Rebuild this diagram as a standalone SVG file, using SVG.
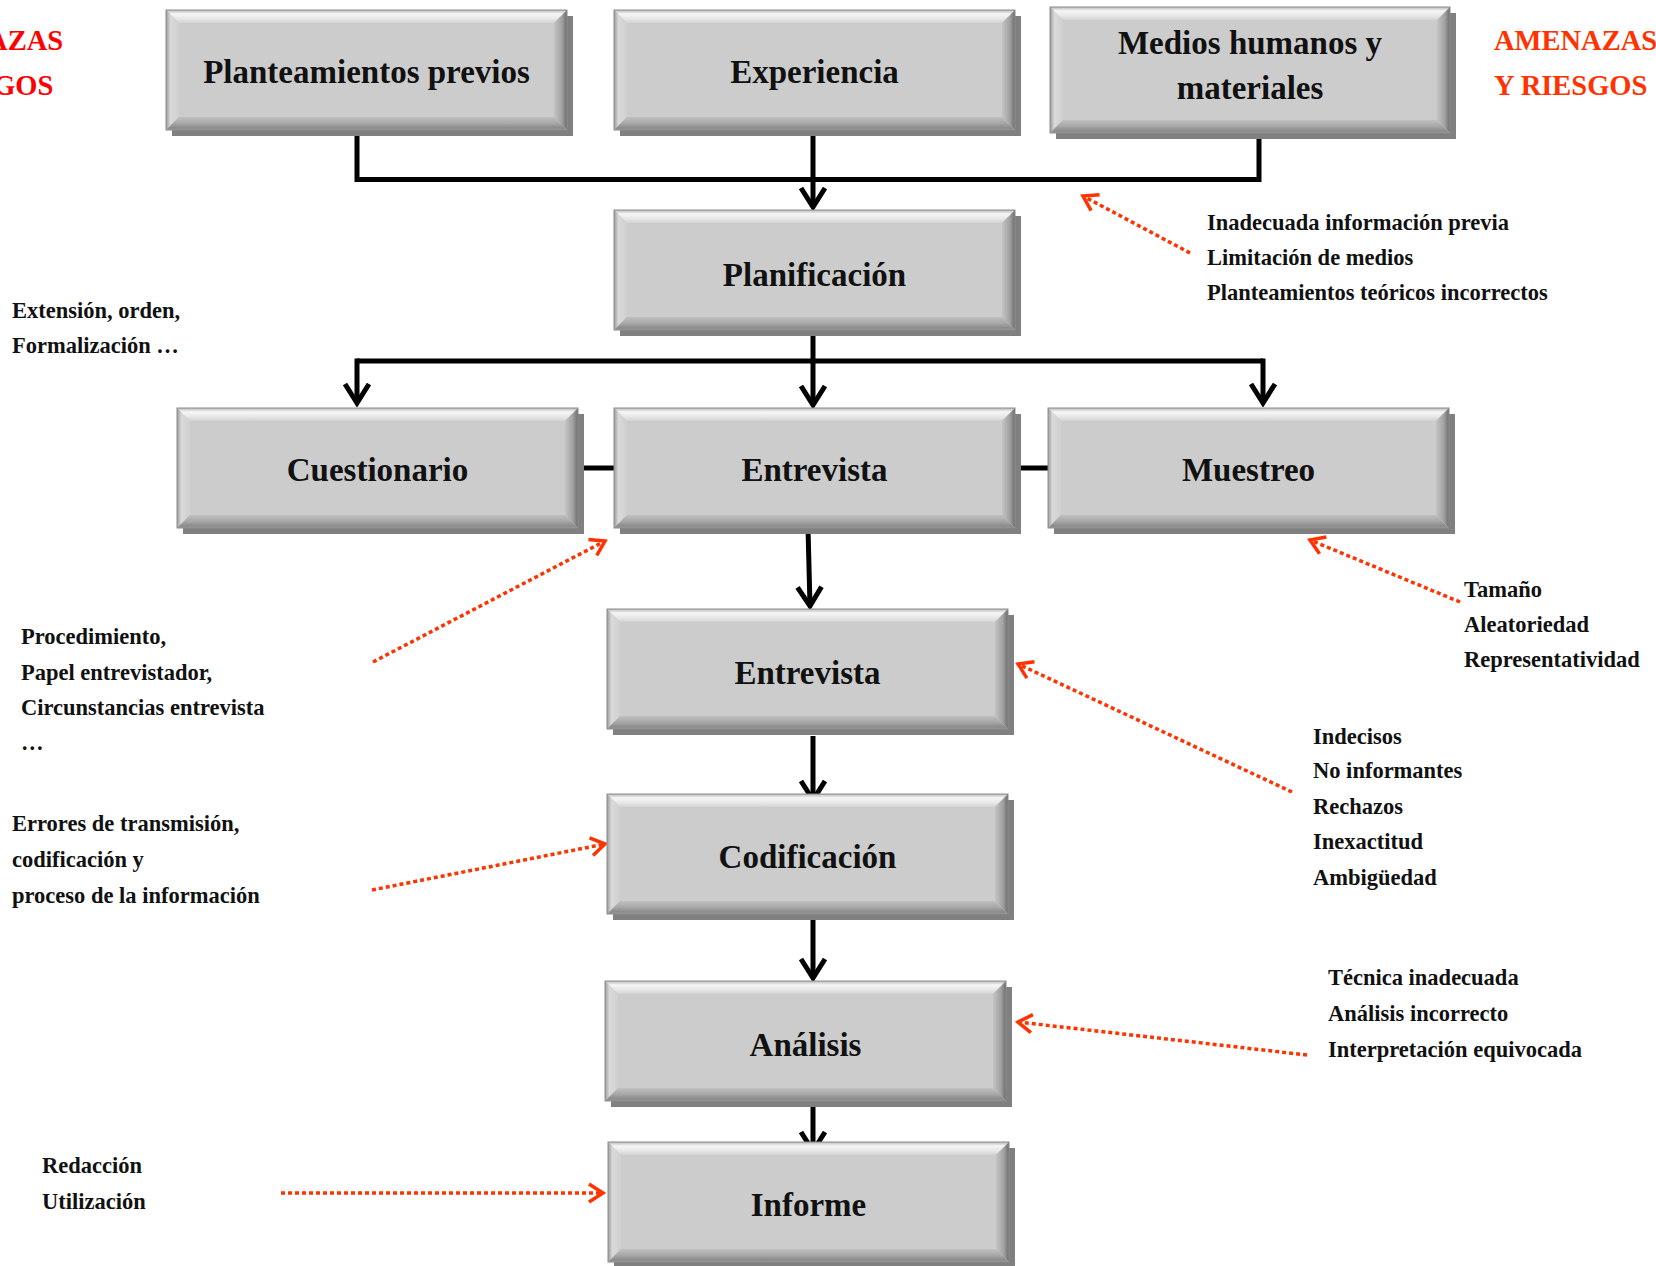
<svg xmlns="http://www.w3.org/2000/svg" xmlns:xlink="http://www.w3.org/1999/xlink" width="1656" height="1266" viewBox="0 0 1656 1266">
<style>
.lbl{font-family:"Liberation Serif","Times New Roman",serif;font-weight:bold;font-size:33px;fill:#111;text-anchor:middle}
.note{font-family:"Liberation Serif","Times New Roman",serif;font-weight:bold;font-size:22.5px;fill:#111}
.warnL{font-family:"Liberation Serif","Times New Roman",serif;font-weight:bold;font-size:28.5px;fill:#ff0000}
.warnR{font-family:"Liberation Serif","Times New Roman",serif;font-weight:bold;font-size:28.5px;fill:#ff3300}
.conn{stroke:#000;stroke-width:5;fill:none}
.risk{stroke:#ff3300;stroke-width:3.5;stroke-dasharray:4 3;fill:none}
</style>
<defs>
<linearGradient id="gT" x1="0" y1="0" x2="0" y2="1"><stop offset="0" stop-color="#b8b8b8"/><stop offset="0.3" stop-color="#f6f6f6"/><stop offset="0.7" stop-color="#e6e6e6"/><stop offset="1" stop-color="#d2d2d2"/></linearGradient>
<linearGradient id="gL" x1="0" y1="0" x2="1" y2="0"><stop offset="0" stop-color="#9c9c9c"/><stop offset="0.35" stop-color="#dadada"/><stop offset="1" stop-color="#cfcfcf"/></linearGradient>
<linearGradient id="gR" x1="0" y1="0" x2="1" y2="0"><stop offset="0" stop-color="#c4c4c4"/><stop offset="0.6" stop-color="#a2a2a2"/><stop offset="1" stop-color="#6c6c6c"/></linearGradient>
<linearGradient id="gB" x1="0" y1="0" x2="0" y2="1"><stop offset="0" stop-color="#c0c0c0"/><stop offset="0.5" stop-color="#a6a6a6"/><stop offset="0.85" stop-color="#8a8a8a"/><stop offset="1" stop-color="#9c9c9c"/></linearGradient>
<g id="bx">
<rect x="6" y="6" width="401" height="120" fill="#808080"/>
<rect width="401" height="120" fill="#cccccc"/>
<polygon points="0,0 401,0 388,13 13,13" fill="url(#gT)"/>
<polygon points="0,0 13,13 13,107 0,120" fill="url(#gL)"/>
<polygon points="401,0 401,120 388,107 388,13" fill="url(#gR)"/>
<polygon points="0,120 13,107 388,107 401,120" fill="url(#gB)"/>
<rect width="401" height="120" fill="none" stroke="#8c8c8c" stroke-width="1"/>
</g>
<g id="bxT">
<rect x="6" y="6" width="400" height="126" fill="#808080"/>
<rect width="400" height="126" fill="#cccccc"/>
<polygon points="0,0 400,0 387,13 13,13" fill="url(#gT)"/>
<polygon points="0,0 13,13 13,113 0,126" fill="url(#gL)"/>
<polygon points="400,0 400,126 387,113 387,13" fill="url(#gR)"/>
<polygon points="0,126 13,113 387,113 400,126" fill="url(#gB)"/>
<rect width="400" height="126" fill="none" stroke="#8c8c8c" stroke-width="1"/>
</g>
<marker id="arrB" markerUnits="userSpaceOnUse" markerWidth="28" markerHeight="32" viewBox="-24 -16 28 32" refX="0" refY="0" orient="auto">
<path d="M-19,-12 L0,0 L-19,12" fill="none" stroke="#000" stroke-width="5"/>
</marker>
<marker id="arrR" markerUnits="userSpaceOnUse" markerWidth="24" markerHeight="26" viewBox="-18 -13 24 26" refX="0" refY="0" orient="auto">
<path d="M-14,-9 L0,0 L-14,9" fill="none" stroke="#ff3300" stroke-width="3.5"/>
</marker>
</defs>
<rect width="1656" height="1266" fill="#ffffff"/>

<g id="connectors">
<polyline class="conn" points="357,130 357,179.5 1259,179.5 1259,133"/>
<line class="conn" x1="813" y1="130" x2="813" y2="207" marker-end="url(#arrB)"/>
<line class="conn" x1="813" y1="330" x2="813" y2="405" marker-end="url(#arrB)"/>
<line class="conn" x1="357" y1="361" x2="1263" y2="361"/>
<line class="conn" x1="357" y1="358.5" x2="357" y2="403" marker-end="url(#arrB)"/>
<line class="conn" x1="1263" y1="358.5" x2="1263" y2="403" marker-end="url(#arrB)"/>
<line class="conn" x1="578" y1="468" x2="614" y2="468"/>
<line class="conn" x1="1015" y1="468" x2="1048" y2="468"/>
<line class="conn" x1="808" y1="528" x2="810" y2="606" marker-end="url(#arrB)"/>
<line class="conn" x1="813" y1="736" x2="813" y2="800" marker-end="url(#arrB)"/>
<line class="conn" x1="813" y1="920" x2="813" y2="978" marker-end="url(#arrB)"/>
<line class="conn" x1="813" y1="1107" x2="813" y2="1151" marker-end="url(#arrB)"/>
<line class="risk" x1="1190" y1="253" x2="1083" y2="196" marker-end="url(#arrR)"/>
<line class="risk" x1="373" y1="662" x2="605" y2="541" marker-end="url(#arrR)"/>
<line class="risk" x1="1460" y1="602" x2="1310" y2="540" marker-end="url(#arrR)"/>
<line class="risk" x1="1292" y1="792" x2="1018" y2="664" marker-end="url(#arrR)"/>
<line class="risk" x1="372" y1="890" x2="605" y2="844" marker-end="url(#arrR)"/>
<line class="risk" x1="1307" y1="1055" x2="1018" y2="1022" marker-end="url(#arrR)"/>
<line class="risk" x1="281" y1="1193" x2="603" y2="1193" marker-end="url(#arrR)"/>
</g>

<g id="n-planteamientos"><use href="#bx" x="166" y="10"/><text class="lbl" x="366.5" y="83">Planteamientos previos</text></g>
<g id="n-experiencia"><use href="#bx" x="614" y="10"/><text class="lbl" x="814.5" y="83">Experiencia</text></g>
<g id="n-medios"><use href="#bxT" x="1050" y="7"/><text class="lbl" x="1250" y="54">Medios humanos y</text><text class="lbl" x="1250" y="99">materiales</text></g>
<g id="n-planificacion"><use href="#bx" x="614" y="210"/><text class="lbl" x="814.5" y="286">Planificación</text></g>
<g id="n-cuestionario"><use href="#bx" x="177" y="408"/><text class="lbl" x="377.5" y="481">Cuestionario</text></g>
<g id="n-entrevista1"><use href="#bx" x="614" y="408"/><text class="lbl" x="814.5" y="481">Entrevista</text></g>
<g id="n-muestreo"><use href="#bx" x="1048" y="408"/><text class="lbl" x="1248.5" y="481">Muestreo</text></g>
<g id="n-entrevista2"><use href="#bx" x="607" y="609"/><text class="lbl" x="807.5" y="684">Entrevista</text></g>
<g id="n-codificacion"><use href="#bx" x="607" y="794"/><text class="lbl" x="807.5" y="868">Codificación</text></g>
<g id="n-analisis"><use href="#bx" x="605" y="981"/><text class="lbl" x="805.5" y="1056">Análisis</text></g>
<g id="n-informe"><use href="#bx" x="608" y="1142"/><text class="lbl" x="808.5" y="1216">Informe</text></g>

<g id="warnings">
<text class="warnL" x="-100" y="50">AMENAZAS</text>
<text class="warnL" x="-100" y="95">Y RIESGOS</text>
<text class="warnR" x="1494" y="50">AMENAZAS</text>
<text class="warnR" x="1494" y="95">Y RIESGOS</text>
</g>

<g id="notes">
<text class="note" x="1207" y="230">Inadecuada información previa</text>
<text class="note" x="1207" y="265">Limitación de medios</text>
<text class="note" x="1207" y="300">Planteamientos teóricos incorrectos</text>
<text class="note" x="12" y="318">Extensión, orden,</text>
<text class="note" x="12" y="353">Formalización …</text>
<text class="note" x="21" y="644">Procedimiento,</text>
<text class="note" x="21" y="680">Papel entrevistador,</text>
<text class="note" x="21" y="715">Circunstancias entrevista</text>
<text class="note" x="21" y="750">…</text>
<text class="note" x="1464" y="597">Tamaño</text>
<text class="note" x="1464" y="632">Aleatoriedad</text>
<text class="note" x="1464" y="667">Representatividad</text>
<text class="note" x="1313" y="744">Indecisos</text>
<text class="note" x="1313" y="778">No informantes</text>
<text class="note" x="1313" y="814">Rechazos</text>
<text class="note" x="1313" y="849">Inexactitud</text>
<text class="note" x="1313" y="885">Ambigüedad</text>
<text class="note" x="12" y="831">Errores de transmisión,</text>
<text class="note" x="12" y="867">codificación y</text>
<text class="note" x="12" y="903">proceso de la información</text>
<text class="note" x="1328" y="985">Técnica inadecuada</text>
<text class="note" x="1328" y="1021">Análisis incorrecto</text>
<text class="note" x="1328" y="1057">Interpretación equivocada</text>
<text class="note" x="42" y="1173">Redacción</text>
<text class="note" x="42" y="1209">Utilización</text>
</g>
</svg>
